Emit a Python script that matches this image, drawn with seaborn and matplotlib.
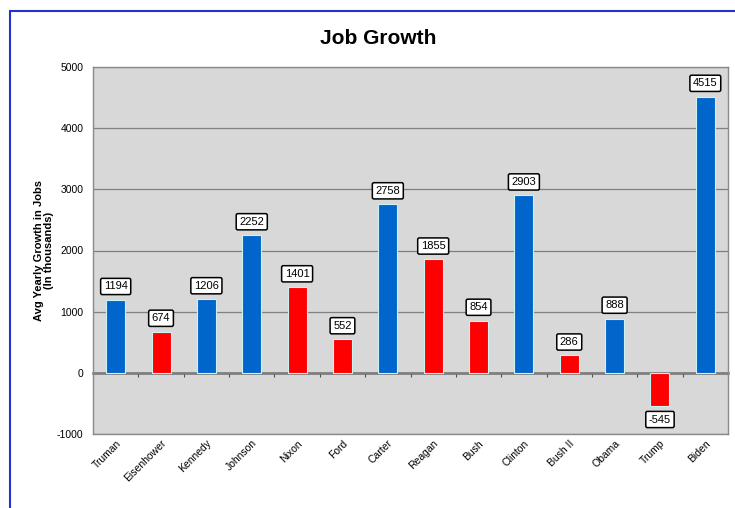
import matplotlib
matplotlib.use("Agg")
import matplotlib.pyplot as plt
from matplotlib.lines import Line2D
import seaborn as sns
import pandas as pd

presidents = ["Truman", "Eisenhower", "Kennedy", "Johnson", "Nixon", "Ford", "Carter",
              "Reagan", "Bush", "Clinton", "Bush II", "Obama", "Trump", "Biden"]
growth = [1194, 674, 1206, 2252, 1401, 552, 2758, 1855, 854, 2903, 286, 888, -545, 4515]
party = ["D", "R", "D", "D", "R", "R", "D", "R", "R", "D", "R", "D", "R", "D"]
yticks = [-1000, 0, 1000, 2000, 3000, 4000, 5000]

df = pd.DataFrame({"President": presidents, "Growth": growth, "Party": party})

sns.set_style("white")
plt.rcParams["font.family"] = ["Liberation Sans", "DejaVu Sans"]
plt.rcParams["text.color"] = "black"
plt.rcParams["xtick.color"] = "black"
plt.rcParams["ytick.color"] = "black"
plt.rcParams["axes.labelcolor"] = "black"

fig = plt.figure(figsize=(7.35, 5.08), dpi=100)
ax = fig.add_axes([93/735, (508-434)/508, 635/735, 367/508])
ax.set_facecolor("#D8D8D8")

sns.barplot(data=df, x="President", y="Growth", hue="Party", order=presidents,
            palette={"D": "#0066CC", "R": "#FF0000"}, dodge=False, legend=False,
            saturation=1, width=0.42, edgecolor="#CCF2F2", linewidth=0.8, ax=ax, zorder=3)

ax.set_ylim(-1000, 5000)
ax.set_xlim(-0.5, len(presidents) - 0.5)
ax.set_yticks(yticks)
ax.set_yticklabels([str(v) for v in yticks], fontsize=7.5)
ax.yaxis.grid(True, color="#808080", linewidth=0.9, zorder=0)
ax.set_axisbelow(True)
for s in ax.spines.values():
    s.set_color("#8A8A8A")
    s.set_linewidth(1.0)
ax.tick_params(axis="y", direction="out", length=4, width=0.8, color="#606060", pad=3)
ax.tick_params(axis="x", length=0, pad=3)
ax.set_xticks(range(len(presidents)))
ax.set_xticklabels(presidents, rotation=45, ha="right", rotation_mode="anchor",
                   fontsize=7.5)
ax.set_xlabel("")
ax.set_ylabel("Avg Yearly Growth in Jobs\n(In thousands)", fontsize=8, fontweight="bold",
              labelpad=2, linespacing=1.0)

# zero axis line with category tick marks
sec = ax.secondary_xaxis(1000/6000)
sec.set_xticks([i - 0.5 for i in range(len(presidents) + 1)])
sec.set_xticklabels([])
sec.tick_params(direction="out", length=3, width=0.8, color="#505050")
sec.spines["bottom"].set_color("#6E6E6E")
sec.spines["bottom"].set_linewidth(1.8)

for i, v in enumerate(growth):
    off = 6 if v >= 0 else -6
    ax.annotate(str(v), xy=(i, v), xytext=(0, off), textcoords="offset points",
                ha="center", va="bottom" if v >= 0 else "top", fontsize=8,
                bbox=dict(boxstyle="round,pad=0.28,rounding_size=0.15",
                          facecolor="white", edgecolor="black", linewidth=1.1),
                zorder=5)

fig.suptitle("Job Growth", x=378/735, y=1 - 38/508, va="center", fontsize=15,
             fontweight="bold")

# blue frame
fig.add_artist(Line2D([10/735, 1.0], [1 - 11/508, 1 - 11/508], color="#2233CC", lw=1.5))
fig.add_artist(Line2D([10/735, 10/735], [0, 1 - 11/508], color="#2233CC", lw=1.5))

fig.savefig("out.png", dpi=100)
